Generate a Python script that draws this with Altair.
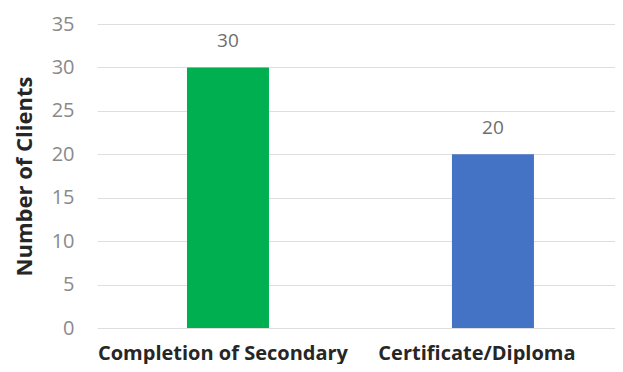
import altair as alt
import pandas as pd

categories = ["Completion of Secondary", "Certificate/Diploma"]
clients = [30, 20]
colors = ["#00B050", "#4472C4"]

df = pd.DataFrame({"category": categories, "clients": clients})

FONT = "Open Sans"

x = alt.X("category:N", sort=categories,
          scale=alt.Scale(paddingInner=0.5, paddingOuter=0.2275, align=0.537),
          axis=alt.Axis(title=None, labelAngle=0, labelFont=FONT, labelFontSize=20,
                        labelFontWeight="bold", labelColor="#262626", ticks=False,
                        domain=False, labelPadding=15, grid=False, labelLimit=0,
                        labelOffset={"condition": {"test": "datum.value == 'Certificate/Diploma'", "value": -16},
                                     "value": -5}))
y = alt.Y("clients:Q",
          scale=alt.Scale(domain=[0, 35], nice=False),
          axis=alt.Axis(title="Number of Clients", values=list(range(0, 36, 5)),
                        titleFont=FONT, titleFontSize=22, titleFontWeight="bold",
                        titleColor="#262626", titlePadding=15,
                        labelFont=FONT, labelFontSize=20, labelColor="#8A8A8A",
                        labelPadding=23, ticks=False, domain=False,
                        gridColor="#DEDEDE", gridWidth=1.2))

bars = alt.Chart(df).mark_bar(size=82).encode(
    x=x, y=y,
    color=alt.Color("category:N", scale=alt.Scale(domain=categories, range=colors), legend=None),
)
labels = alt.Chart(df).mark_text(dy=-26, font=FONT, fontSize=19, color="#6E6E6E").encode(
    x=alt.X("category:N", sort=categories), y="clients:Q", text="clients:Q"
)

chart = (bars + labels).properties(
    width=518, height=304,
    autosize=alt.AutoSizeParams(type="none"),
    padding={"left": 89, "top": 16, "right": 0, "bottom": 36},
).configure_view(stroke=None)

chart.save("out.html", embed_options={"renderer": "svg", "actions": False})
